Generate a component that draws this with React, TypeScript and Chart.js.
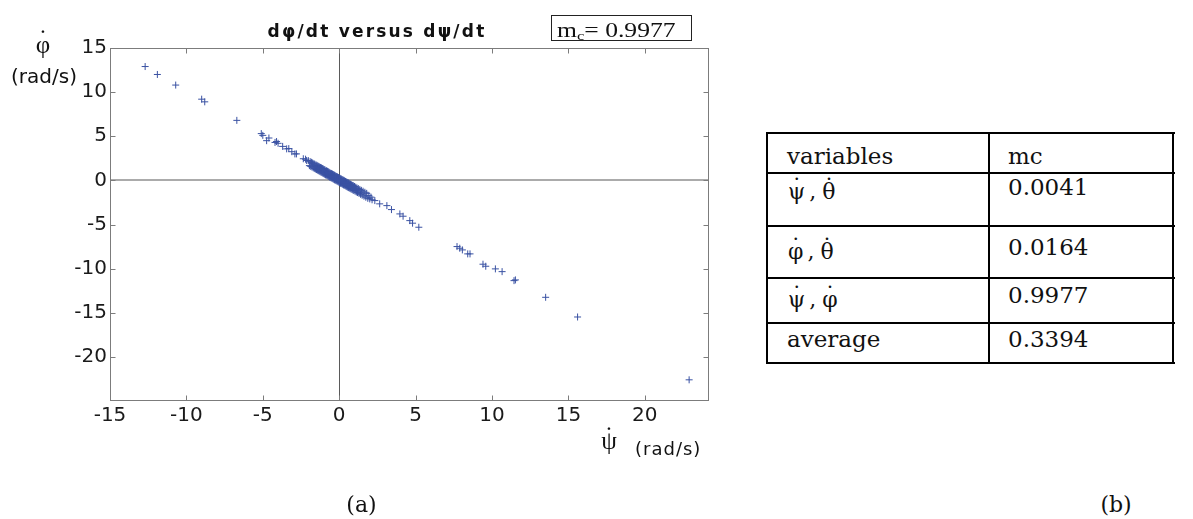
import React, { useEffect, useRef } from 'react';
import { Chart, registerables } from 'chart.js';

Chart.register(...registerables);

// ψ̇ (x, rad/s) and φ̇ (y, rad/s) samples
const psiRate: number[] = [
  -12.7, -11.9, -10.7, -9.0, -8.8, -6.7, -5.1, -5.0, -4.75, -4.6, -4.2, -4.1, -4.0, -3.7, -3.44, -3.3, -3.1, -2.9, -2.8, -2.35, -2.2, -2.13,
  -2.02, -1.95, -1.9, -1.86, -1.82, -1.78, -1.74, -1.7, -1.66, -1.63,
  -1.6, -1.56, -1.52, -1.49, -1.46, -1.43, -1.4, -1.37, -1.34, -1.31,
  -1.28, -1.25, -1.22, -1.19, -1.16, -1.13, -1.1, -1.07, -1.04, -1.01,
  -0.98, -0.95, -0.92, -0.89, -0.9, -0.86, -0.83, -0.8, -0.77, -0.74,
  -0.71, -0.68, -0.65, -0.62, -0.6, -0.59, -0.56, -0.53, -0.5, -0.47,
  -0.44, -0.41, -0.38, -0.35, -0.32, -0.3, -0.29, -0.26, -0.23, -0.2,
  -0.17, -0.14, -0.11, -0.08, -0.05, -0.02, 0.0, 0.02, 0.05, 0.08,
  0.1, 0.11, 0.14, 0.17, 0.2, 0.23, 0.26, 0.29, 0.3, 0.32,
  0.35, 0.38, 0.41, 0.44, 0.47, 0.5, 0.53, 0.56, 0.59, 0.6,
  0.62, 0.65, 0.68, 0.71, 0.74, 0.77, 0.8, 0.84, 0.88, 0.9,
  0.92, 0.96, 1.0, 1.04, 1.08, 1.12, 1.16, 1.2, 1.25, 1.3,
  1.35, 1.4, 1.45, 1.5, 1.56, 1.62, 1.68, 1.74, 1.8, 1.87,
  1.94, 2.0, 2.08, 2.15,
  -0.4, -0.25, -0.1, 0.04, 0.18, 0.33, 0.45, 0.7, 0.85, 1.1,
  2.33, 2.65, 3.12, 3.42, 3.97, 4.18, 4.62, 4.8, 5.21, 7.71, 7.89, 8.06, 8.41, 8.56, 9.41, 9.59, 10.22, 10.66, 11.44, 11.53, 13.51, 15.6, 22.9,
];
const phiRate: number[] = [
  12.9, 12.0, 10.8, 9.2, 8.9, 6.8, 5.3, 5.1, 4.5, 4.8, 4.3, 4.4, 4.2, 3.85, 3.57, 3.6, 3.25, 3.0, 3.0, 2.45, 2.4, 2.25,
  2.24, 1.67, 2.12, 1.58, 2.05, 1.51, 1.97, 1.43, 1.89, 1.36,
  1.83, 1.29, 1.75, 1.23, 1.7, 1.17, 1.64, 1.11, 1.58, 1.05,
  1.52, 0.99, 1.46, 0.93, 1.41, 0.88, 1.35, 0.82, 1.29, 0.76,
  1.23, 0.7, 1.17, 0.64, 1.0, 0.61, 1.09, 0.56, 1.03, 0.5,
  0.97, 0.44, 0.91, 0.38, 0.7, 0.35, 0.82, 0.29, 0.77, 0.24,
  0.71, 0.18, 0.65, 0.12, 0.59, 0.07, 0.56, 0.03, 0.5, -0.03,
  0.44, -0.08, 0.39, -0.14, 0.33, -0.2, 0.28, -0.24, 0.23, -0.3,
  0.18, -0.33, 0.14, -0.38, 0.09, -0.44, 0.03, -0.5, 0.0, -0.53,
  -0.06, -0.59, -0.12, -0.65, -0.18, -0.71, -0.23, -0.76, -0.29, -0.8,
  -0.32, -0.85, -0.38, -0.91, -0.44, -0.97, -0.5, -1.03, -0.57, -1.09,
  -0.61, -1.15, -0.69, -1.23, -0.77, -1.31, -0.85, -1.38, -0.93, -1.48,
  -1.03, -1.58, -1.13, -1.68, -1.23, -1.79, -1.35, -1.91, -1.47, -2.03,
  -1.7, -2.1, -1.9, -2.2,
  0.45, 0.26, 0.12, -0.02, -0.18, -0.3, -0.45, -0.65, -0.82, -1.05,
  -2.29, -2.66, -2.86, -3.31, -3.8, -4.06, -4.56, -4.85, -5.31, -7.5, -7.69, -7.88, -8.33, -8.33, -9.5, -9.73, -10.03, -10.34, -11.36, -11.28, -13.25, -15.48, -22.6,
];

const xTickValues: number[] = [-15, -10, -5, 0, 5, 10, 15, 20];
const yTickValues: number[] = [-20, -15, -10, -5, 0, 5, 10, 15];
const xLimits: number[] = [-15, 24.2];
const yLimits: number[] = [-25, 15];

const chartTitle = 'dφ/dt versus dψ/dt';
const mcValue = '0.9977';
const tableHeader: string[] = ['variables', 'mc'];
const tableVars: string[][] = [['ψ', 'θ'], ['φ', 'θ'], ['ψ', 'φ']];
const tableLastLabel = 'average';
const tableMc: string[] = ['0.0041', '0.0164', '0.9977', '0.3394'];

const framePlugin = {
  id: 'matlabFrame',
  beforeDatasetsDraw(chart: any) {
    const { ctx, chartArea: a, scales } = chart;
    ctx.save();
    ctx.strokeStyle = '#7c7c7c';
    ctx.lineWidth = 1;
    const L = Math.round(a.left) + 0.5;
    const R = Math.round(a.right) - 0.5;
    const T = Math.round(a.top) + 0.5;
    const B = Math.round(a.bottom) - 0.5;
    ctx.strokeRect(L, T, R - L, B - T);
    ctx.beginPath();
    for (const v of xTickValues) {
      const px = Math.round(scales.x.getPixelForValue(v)) + 0.5;
      ctx.moveTo(px, B);
      ctx.lineTo(px, B - 5);
      ctx.moveTo(px, T);
      ctx.lineTo(px, T + 5);
    }
    for (const v of yTickValues) {
      const py = Math.round(scales.y.getPixelForValue(v)) + 0.5;
      ctx.moveTo(L, py);
      ctx.lineTo(L + 5, py);
      ctx.moveTo(R, py);
      ctx.lineTo(R - 5, py);
    }
    ctx.stroke();
    ctx.restore();
  },
};

type TxtProps = {
  x: number;
  y: number; // baseline
  size: number;
  family: string;
  weight?: string | number;
  ls?: number;
  center?: boolean;
  sx?: number;
  color?: string;
  children: React.ReactNode;
};

function Txt({ x, y, size, family, weight, ls, center, sx, color, children }: TxtProps) {
  const transforms: string[] = [];
  if (center) transforms.push('translateX(-50%)');
  if (sx) transforms.push(`scaleX(${sx})`);
  return (
    <div
      style={{
        position: 'absolute',
        left: x,
        top: y - 0.845 * size,
        fontSize: size,
        lineHeight: `${size}px`,
        fontFamily: family,
        fontWeight: weight ?? 'normal',
        letterSpacing: ls ? `${ls}px` : undefined,
        whiteSpace: 'nowrap',
        color: color ?? '#111',
        transform: transforms.length ? transforms.join(' ') : undefined,
        transformOrigin: 'left top',
      }}
    >
      {children}
    </div>
  );
}

function Dotted({ ch, raise }: { ch: string; raise: number }) {
  return (
    <span style={{ position: 'relative', display: 'inline-block' }}>
      {ch}
      <span
        style={{
          position: 'absolute',
          left: 0,
          right: 0,
          top: -raise,
          textAlign: 'center',
        }}
      >
        ˙
      </span>
    </span>
  );
}

export default function App() {
  const canvasRef = useRef<HTMLCanvasElement | null>(null);

  useEffect(() => {
    const canvas = canvasRef.current;
    if (!canvas) return;
    const points = psiRate.map((x, i) => ({ x, y: phiRate[i] }));
    const tickFont = { family: 'DejaVu Sans', size: 20 };
    const chart = new Chart(canvas, {
      type: 'scatter',
      data: {
        datasets: [
          {
            data: points,
            pointStyle: 'cross',
            pointRadius: 3.5,
            pointBorderWidth: 1,
            borderColor: '#3a52a3',
            backgroundColor: '#3a52a3',
          } as any,
        ],
      },
      options: {
        animation: false,
        responsive: false,
        maintainAspectRatio: false,
        devicePixelRatio: 1,
        layout: { padding: { left: 0, top: 48, right: 31, bottom: 0 } },
        plugins: {
          legend: { display: false },
          tooltip: { enabled: false },
          title: { display: false },
        },
        scales: {
          x: {
            type: 'linear',
            position: 'bottom',
            min: xLimits[0],
            max: xLimits[1],
            afterBuildTicks: (s: any) => {
              s.ticks = xTickValues.map((v) => ({ value: v }));
            },
            afterFit: (s: any) => {
              s.height = 118;
            },
            border: { display: false },
            grid: {
              drawTicks: false,
              color: (c: any) => (c.tick && c.tick.value === 0 ? '#5a5a5a' : 'rgba(0,0,0,0)'),
              lineWidth: 1,
            },
            ticks: {
              font: tickFont,
              color: '#1a1a1a',
              padding: 3,
              maxRotation: 0,
              autoSkip: false,
              callback: (v: any) => String(v),
            },
          },
          y: {
            type: 'linear',
            position: 'left',
            min: yLimits[0],
            max: yLimits[1],
            afterBuildTicks: (s: any) => {
              s.ticks = yTickValues.map((v) => ({ value: v }));
            },
            afterFit: (s: any) => {
              s.width = 110;
            },
            border: { display: false },
            grid: {
              drawTicks: false,
              color: (c: any) => (c.tick && c.tick.value === 0 ? '#ababab' : 'rgba(0,0,0,0)'),
              lineWidth: (c: any) => (c.tick && c.tick.value === 0 ? 2 : 1),
            },
            ticks: {
              font: tickFont,
              color: '#1a1a1a',
              padding: 3,
              autoSkip: false,
              callback: (v: any) => String(v),
            },
          },
        },
      } as any,
      plugins: [framePlugin],
    });
    return () => chart.destroy();
  }, []);

  const serif = '"DejaVu Serif", serif';
  const times = '"Liberation Serif", "Times New Roman", serif';
  const sans = '"DejaVu Sans", sans-serif';

  const hLines = [133, 173, 226, 278, 323, 363];
  const vLines = [767, 989, 1173];
  const symBase = [200, 260, 308];
  const numBase = [195, 255, 303];

  return (
    <div
      style={{
        position: 'fixed',
        left: 0,
        top: 0,
        width: 1193,
        height: 519,
        background: '#ffffff',
        overflow: 'hidden',
      }}
    >
      <canvas
        ref={canvasRef}
        width={740}
        height={519}
        style={{ position: 'absolute', left: 0, top: 0 }}
      />

      {/* chart title */}
      <Txt x={377} y={37} size={17} family={sans} weight="bold" ls={2.2} center>
        {chartTitle}
      </Txt>

      {/* m_c box */}
      <div
        style={{
          position: 'absolute',
          left: 551,
          top: 15,
          width: 141,
          height: 26,
          border: '1px solid #222',
          boxSizing: 'border-box',
        }}
      />
      <Txt x={557} y={36.5} size={20} family={times} sx={1.28}>
        m<span style={{ fontSize: 13, position: 'relative', top: 3 }}>c</span>= {mcValue}
      </Txt>

      {/* y axis label */}
      <Txt x={43} y={53} size={25} family={times} center>
        <Dotted ch="φ" raise={6} />
      </Txt>
      <Txt x={11} y={83} size={20} family={sans}>
        (rad/s)
      </Txt>

      {/* x axis label */}
      <Txt x={609} y={449} size={25} family={times} center>
        <Dotted ch="ψ" raise={5} />
      </Txt>
      <Txt x={635} y={455} size={18} family={sans} ls={1}>
        (rad/s)
      </Txt>

      {/* panel labels */}
      <Txt x={361.5} y={513} size={22} family={serif} center>
        (a)
      </Txt>
      <Txt x={1116} y={513} size={22} family={serif} center>
        (b)
      </Txt>

      {/* table (b) */}
      {hLines.map((y) => (
        <div
          key={'h' + y}
          style={{ position: 'absolute', left: 767, top: y - 1, width: 1175 - 767, height: 2, background: '#000' }}
        />
      ))}
      {vLines.map((x) => (
        <div
          key={'v' + x}
          style={{ position: 'absolute', left: x - 1, top: 132, width: 2, height: 364 - 132, background: '#000' }}
        />
      ))}
      <Txt x={787} y={164} size={23} family={serif}>
        {tableHeader[0]}
      </Txt>
      <Txt x={1008} y={164} size={23} family={serif}>
        {tableHeader[1]}
      </Txt>
      {tableVars.map((pair, i) => (
        <Txt key={'s' + i} x={788} y={symBase[i]} size={22} family={serif}>
          <Dotted ch={pair[0]} raise={4} />
          <span style={{ margin: '0 6px 0 4px' }}>,</span>
          <Dotted ch={pair[1]} raise={4} />
        </Txt>
      ))}
      {tableMc.slice(0, 3).map((v, i) => (
        <Txt key={'n' + i} x={1008} y={numBase[i]} size={23} family={serif}>
          {v}
        </Txt>
      ))}
      <Txt x={787} y={347} size={23} family={serif}>
        {tableLastLabel}
      </Txt>
      <Txt x={1008} y={347} size={23} family={serif}>
        {tableMc[3]}
      </Txt>
    </div>
  );
}
